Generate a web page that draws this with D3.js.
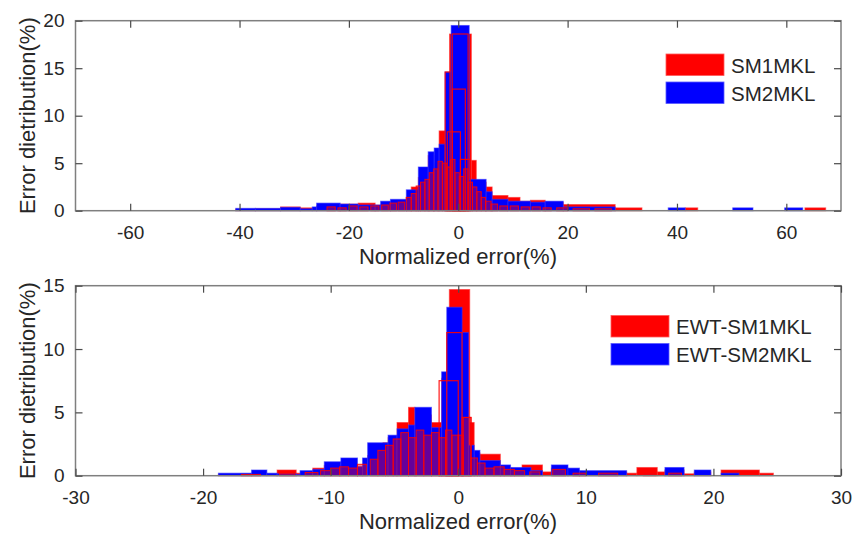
<!DOCTYPE html>
<html><head><meta charset="utf-8">
<script src="https://cdn.jsdelivr.net/npm/d3@7"></script>
<style>
html,body{margin:0;padding:0;background:#fff;}
svg text{font-family:"Liberation Sans",Arial,sans-serif;fill:#262626;}
</style></head>
<body><svg id="c" width="853" height="535"></svg>
<script>
// ---------- data: bins as [left edge, right edge, percent] ----------
const topXTicks = [-60,-40,-20,0,20,40,60];
const topYTicks = [0,5,10,15,20];
const botXTicks = [-30,-20,-10,0,10,20,30];
const botYTicks = [0,5,10,15];
const topSeriesNames = ["SM1MKL","SM2MKL"];
const botSeriesNames = ["EWT-SM1MKL","EWT-SM2MKL"];

const topRed = [[-40.7,-37.1,0.15],[-37.1,-32.5,0.2],[-32.5,-28.9,0.4],[-28.9,-25.9,0.3],[-25.9,-21.6,0.5],
 [-21.6,-18.3,0.7],[-18.3,-15.2,0.8],[-15.2,-12.4,0.6],[-12.4,-9.5,0.9],[-9.5,-8.6,1.4],[-8.6,-7.3,2.5],
 [-7.3,-5.5,3.5],[-5.5,-4.4,5.8],[-4.4,-3.5,5.0],[-3.5,-2.4,8.4],[-2.4,-1.6,8.0],[-1.6,2.4,18.6],[2.4,3.3,5.3],
 [3.3,5.1,3.0],[5.1,6.2,2.5],[6.2,9.1,1.6],[9.1,11.3,1.4],[11.3,13.2,1.0],[13.2,15.9,1.1],[15.9,19.2,0.9],
 [19.2,28.7,0.65],[28.7,33.6,0.3],[41.5,43.8,0.3],[63.4,67.2,0.3]];
const topBlue = [[-40.7,-37.1,0.25],[-37.1,-32.5,0.25],[-32.5,-28.9,0.35],[-28.9,-26.7,0.2],[-26.7,-25.9,0.4],
 [-25.9,-21.6,0.8],[-21.6,-18.3,0.7],[-18.3,-15.2,0.6],[-15.2,-14.2,0.6],[-14.2,-12.4,1.0],[-12.4,-9.5,1.2],
 [-9.5,-7.3,2.2],[-7.3,-5.5,4.6],[-5.5,-4.4,6.2],[-4.4,-3.5,6.6],[-3.5,-2.4,7.0],[-2.4,-1.3,14.6],[-1.3,2.0,19.5],
 [2.0,5.1,3.3],[5.1,6.2,2.0],[6.2,9.1,1.2],[9.1,13.2,1.0],[13.2,15.9,0.9],[15.9,19.2,1.0],[19.2,28.7,0.4],
 [38.4,41.5,0.3],[50.2,53.9,0.3],[59.7,63.0,0.3]];
const topInner = [[-24,-22.5,0.4],[-22,-20.5,0.3],[-20,-18.5,0.5],[-18,-16.5,0.4],[-16,-14.5,0.5],[-14,-12.8,0.6],
 [-12.5,-11.3,0.8],[-11,-9.8,0.9],[-9.5,-8.6,1.4],[-8.6,-7.7,1.8],[-7.7,-6.9,2.6],[-6.9,-6.1,3.0],[-6.1,-5.3,3.3],
 [-5.3,-4.5,4.0],[-4.5,-3.7,4.4],[-3.7,-2.9,5.2],[-2.9,-2.1,5.0],[-2.1,-1.4,4.6],[-1.4,-0.6,5.4],[-0.6,0.2,4.0],
 [0.2,1.0,3.6],[1.0,1.8,4.4],[1.8,2.6,3.0],[2.6,3.4,2.5],[3.4,4.2,2.0],[4.2,5.0,1.4],[5.0,6.0,1.0],[6.0,7.2,0.7],
 [7.6,9.0,0.5],[9.5,11,0.5],[11.5,13,0.4],[13.5,15,0.4],[15.5,17,0.3],[18,20,0.3],[21,24,0.2],[25,28,0.2]];
const topOutline = [[-1.1,1.8,18.6],[-2.4,-1.5,14.6],[-1.1,1.3,12.8],[-2.0,0.4,8.3],[0.4,2.2,5.4]];

const botRed = [[-18.8,-16.2,0.1],[-16.2,-14.2,0.1],[-14.2,-12.7,0.45],[-12.7,-11.4,0.2],[-11.4,-10.5,0.6],
 [-10.5,-9.2,0.8],[-9.2,-7.9,0.8],[-7.9,-7.1,0.7],[-7.1,-5.9,1.6],[-5.9,-5.5,2.6],[-5.5,-4.8,3.0],[-4.8,-3.9,4.2],
 [-3.9,-3.4,5.4],[-3.4,-2.1,4.8],[-2.1,-1.3,4.2],[-1.3,-0.7,7.7],[-0.7,0.9,14.7],[0.9,1.25,4.2],[1.25,1.7,1.8],
 [1.7,3.3,1.7],[3.3,4.2,0.6],[4.2,5.0,0.5],[5.0,6.6,0.85],[6.6,7.3,0.3],[7.3,8.6,0.6],[8.6,9.5,0.4],[9.5,13.2,0.3],
 [13.2,14.0,0.2],[14.0,15.6,0.65],[15.6,16.2,0.3],[16.2,17.7,0.45],[17.7,18.5,0.15],[18.5,19.8,0.3],
 [20.6,23.6,0.45],[23.6,24.7,0.2]];
const botBlue = [[-18.8,-16.2,0.2],[-16.2,-15.0,0.45],[-15.0,-14.2,0.2],[-14.2,-12.7,0.15],[-12.7,-12.4,0.1],
 [-12.4,-11.4,0.4],[-11.4,-10.5,0.5],[-10.5,-9.2,1.1],[-9.2,-7.9,1.4],[-7.9,-7.5,0.7],[-7.5,-7.1,1.4],
 [-7.1,-5.5,2.6],[-5.5,-4.8,3.2],[-4.8,-3.9,3.7],[-3.9,-3.4,4.0],[-3.4,-2.1,5.4],[-2.1,-1.3,3.8],[-1.3,-0.9,8.2],
 [-0.9,0.3,13.3],[0.3,0.8,11.3],[0.8,1.25,2.4],[1.25,1.7,2.0],[1.7,3.3,1.2],[3.3,4.1,0.85],[4.1,5.7,0.65],
 [5.7,6.6,0.4],[7.3,8.6,0.85],[8.6,9.5,0.6],[9.5,13.2,0.4],[16.2,17.7,0.65],[18.5,19.8,0.45],[20.6,22.0,0.2]];
const botInner = [[-17,-15.5,0.1],[-14,-12.8,0.15],[-12,-11,0.25],[-10.8,-10.0,0.4],[-10,-9.3,0.6],[-9.3,-8.6,0.7],
 [-8.6,-7.9,0.6],[-7.9,-7.2,0.9],[-6.9,-6.3,1.3],[-6.3,-5.7,2.0],[-5.7,-5.1,2.4],[-5.1,-4.5,2.9],[-4.5,-3.9,3.4],
 [-3.9,-3.3,3.0],[-3.3,-2.7,3.6],[-2.7,-2.1,3.2],[-2.1,-1.5,3.4],[-1.5,-1.0,3.0],[-1.0,-0.5,3.6],[-0.5,0,3.2],
 [0,0.4,3.2],[0.4,1.0,4.6],[1.0,1.5,1.4],[1.5,2.1,1.0],[2.1,2.8,0.6],[2.8,3.6,0.7],[3.6,4.4,0.5],[4.4,5.2,0.4],
 [5.6,6.4,0.3],[7.4,8.4,0.5],[9,10,0.2],[11,12.5,0.2],[14.5,15.5,0.2],[16.5,17.5,0.2]];
const botOutline = [[-1.5,0,7.5],[0.3,1.0,4.6],[-0.9,0.3,11.3]];

// ---------- drawing ----------
const svg = d3.select("#c");

function panel(cfg){
  const x = d3.scaleLinear().domain(cfg.xDomain).range([75.5, 841]);
  const y = d3.scaleLinear().domain(cfg.yDomain).range([cfg.bottom, cfg.top]);
  const g = svg.append("g");
  function bars(data, fill, opts){
    g.append("g").selectAll("rect").data(data).join("rect")
      .attr("x", d => x(d[0]))
      .attr("width", d => Math.max(0.5, x(d[1]) - x(d[0])))
      .attr("y", d => y(d[2]))
      .attr("height", d => y(0) - y(d[2]))
      .attr("fill", fill)
      .attr("fill-opacity", opts.fo)
      .attr("stroke", opts.stroke)
      .attr("stroke-opacity", opts.so)
      .attr("stroke-width", opts.sw);
  }
  bars(cfg.red, "#ff0000", {fo:1, stroke:"#ff3030", so:0.6, sw:1});
  bars(cfg.blue, "#0000ff", {fo:1, stroke:"#3030ff", so:0.6, sw:1});
  bars(cfg.inner, "#e00020", {fo:0.45, stroke:"#ff0000", so:0.9, sw:1});
  bars(cfg.outline, "none", {fo:0, stroke:"#ff0000", so:0.9, sw:1.2});

  // box
  const axCol = "#7f7f7f";
  g.append("rect").attr("x", x.range()[0]).attr("y", cfg.top)
   .attr("width", x.range()[1]-x.range()[0]).attr("height", cfg.bottom-cfg.top)
   .attr("fill","none").attr("stroke", axCol).attr("stroke-width",1.5);

  // axes with inward ticks
  const xb = d3.axisBottom(x).tickValues(cfg.xTicks).tickSize(-7).tickPadding(15).tickFormat(d3.format("d"));
  const xt = d3.axisTop(x).tickValues(cfg.xTicks).tickSize(-7).tickFormat("");
  const yl = d3.axisLeft(y).tickValues(cfg.yTicks).tickSize(-7).tickPadding(11).tickFormat(d3.format("d"));
  const yr = d3.axisRight(y).tickValues(cfg.yTicks).tickSize(-7).tickFormat("");
  function style(sel){
    sel.select(".domain").remove();
    sel.selectAll(".tick line").attr("stroke","#4a4a4a").attr("stroke-width",1.2);
    sel.selectAll(".tick text").attr("font-size",19).attr("fill","#262626")
       .attr("font-family","Liberation Sans, Arial, sans-serif");
  }
  g.append("g").attr("transform",`translate(0,${cfg.bottom})`).call(xb).call(style)
    .selectAll(".tick text").text(d => d < 0 ? "-" + Math.abs(d) : d);
  g.append("g").attr("transform",`translate(0,${cfg.top})`).call(xt).call(style);
  g.append("g").attr("transform",`translate(${x.range()[0]},0)`).call(yl).call(style);
  g.append("g").attr("transform",`translate(${x.range()[1]},0)`).call(yr).call(style);

  // labels
  g.append("text").attr("x", 458).attr("y", cfg.bottom + 53)
   .attr("text-anchor","middle").attr("font-size",22).text("Normalized error(%)");
  g.append("text").attr("transform",`translate(35,${(cfg.top+cfg.bottom)/2}) rotate(-90)`)
   .attr("text-anchor","middle").attr("font-size",22).text("Error dietribution(%)");

  // legend
  const lg = g.append("g");
  const cols = ["#ff0000","#0000ff"];
  cfg.names.forEach((n,i)=>{
    lg.append("rect").attr("x", cfg.legX).attr("y", cfg.legY + i*28)
      .attr("width",58).attr("height",21.5).attr("fill",cols[i])
      .attr("stroke", i? "#5a5aff":"#ff5a5a").attr("stroke-width",0.8);
    lg.append("text").attr("x", cfg.legX+65).attr("y", cfg.legY + i*28 + 18.5)
      .attr("font-size",20.5).attr("fill","#1a1a1a").text(n);
  });
}

panel({xDomain:[-70,70], yDomain:[0,20], top:20.7, bottom:210.7,
  xTicks:topXTicks, yTicks:topYTicks, red:topRed, blue:topBlue, inner:topInner, outline:topOutline,
  names:topSeriesNames, legX:666, legY:54});
panel({xDomain:[-30,30], yDomain:[0,15], top:285.7, bottom:475.7,
  xTicks:botXTicks, yTicks:botYTicks, red:botRed, blue:botBlue, inner:botInner, outline:botOutline,
  names:botSeriesNames, legX:611, legY:315.5});
</script></body></html>
